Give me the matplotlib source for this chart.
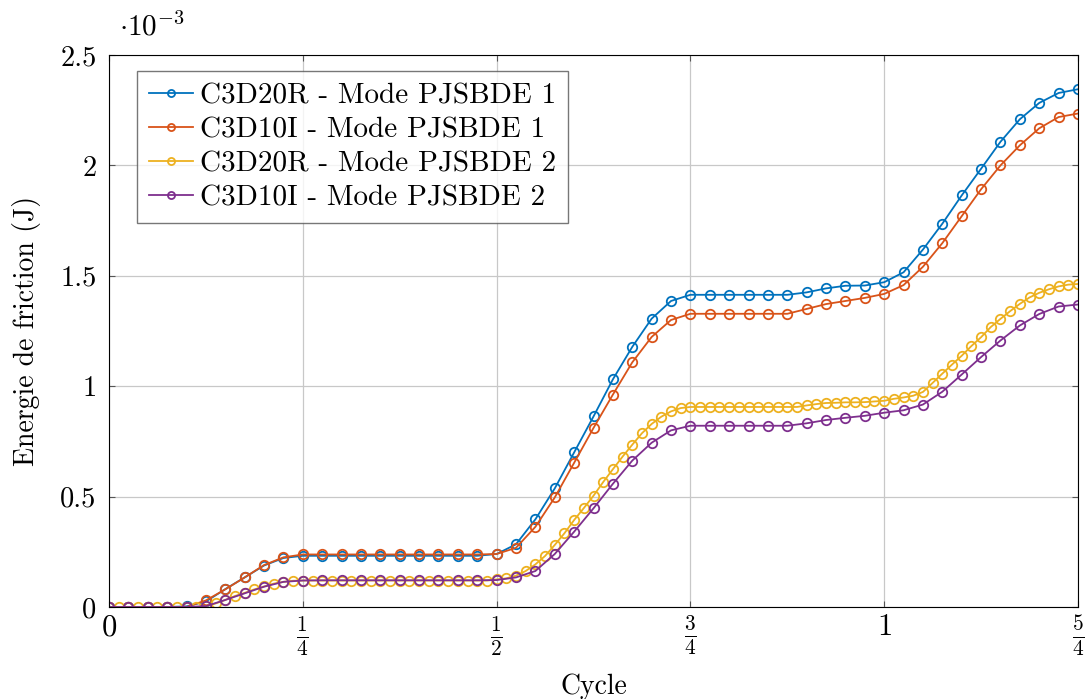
import numpy as np
import matplotlib
matplotlib.use("Agg")
import matplotlib.pyplot as plt

plt.rcParams['font.family'] = 'serif'
plt.rcParams['font.serif'] = ['cmr10']
plt.rcParams['mathtext.fontset'] = 'cm'
plt.rcParams['axes.unicode_minus'] = False

# energie de friction, unites de 1e-3 J
c3d20r_m1 = [0, 0, 0, 0, 0.003, 0.025, 0.081, 0.134, 0.188, 0.222,
             0.232, 0.232, 0.232, 0.232, 0.232, 0.232, 0.232, 0.232, 0.232, 0.232,
             0.240, 0.284, 0.397, 0.537, 0.700, 0.863, 1.031, 1.178, 1.306, 1.386,
             1.414, 1.414, 1.414, 1.414, 1.414, 1.414, 1.425, 1.443, 1.455, 1.456,
             1.471, 1.516, 1.619, 1.736, 1.864, 1.985, 2.107, 2.209, 2.283, 2.328,
             2.345]
c3d10i_m1 = [0, 0, 0, 0, 0, 0.030, 0.080, 0.134, 0.190, 0.225,
             0.238, 0.238, 0.238, 0.238, 0.238, 0.238, 0.238, 0.238, 0.238, 0.238,
             0.240, 0.268, 0.363, 0.496, 0.653, 0.811, 0.962, 1.108, 1.223, 1.300,
             1.328, 1.328, 1.328, 1.328, 1.328, 1.328, 1.350, 1.372, 1.386, 1.400,
             1.418, 1.458, 1.541, 1.648, 1.770, 1.892, 2.000, 2.091, 2.168, 2.219,
             2.235]
c3d20r_m2 = [0, 0, 0, 0, 0, 0, 0, 0, 0, 0,
             0.004, 0.016, 0.032, 0.050, 0.064, 0.080, 0.093, 0.106, 0.114, 0.119,
             0.120, 0.120, 0.120, 0.120, 0.120, 0.120, 0.120, 0.120, 0.120, 0.120,
             0.120, 0.120, 0.120, 0.120, 0.120, 0.120, 0.120, 0.120, 0.120, 0.120,
             0.125, 0.130, 0.142, 0.163, 0.193, 0.231, 0.281, 0.334, 0.394, 0.448,
             0.504, 0.566, 0.624, 0.681, 0.735, 0.787, 0.829, 0.862, 0.886, 0.901,
             0.906, 0.906, 0.906, 0.906, 0.906, 0.906, 0.906, 0.906, 0.906, 0.906,
             0.906, 0.906, 0.913, 0.919, 0.924, 0.925, 0.927, 0.927, 0.928, 0.931,
             0.934, 0.943, 0.949, 0.957, 0.974, 1.015, 1.057, 1.098, 1.138, 1.182,
             1.222, 1.268, 1.305, 1.340, 1.373, 1.402, 1.423, 1.439, 1.452, 1.460,
             1.463]
c3d10i_m2 = [0, 0, 0, 0, 0, 0.004, 0.032, 0.062, 0.092, 0.114,
             0.120, 0.121, 0.121, 0.121, 0.121, 0.121, 0.121, 0.121, 0.121, 0.121,
             0.122, 0.134, 0.163, 0.240, 0.341, 0.447, 0.558, 0.663, 0.744, 0.800,
             0.821, 0.821, 0.821, 0.821, 0.821, 0.821, 0.832, 0.847, 0.857, 0.866,
             0.880, 0.891, 0.917, 0.975, 1.053, 1.132, 1.207, 1.275, 1.327, 1.361,
             1.370]

labels = ['C3D20R - Mode PJSBDE 1', 'C3D10I - Mode PJSBDE 1',
          'C3D20R - Mode PJSBDE 2', 'C3D10I - Mode PJSBDE 2']
colors = ['#0072BD', '#D95319', '#EDB120', '#7E2F8E']

x_coarse = np.linspace(0, 1.25, len(c3d20r_m1))
x_fine = np.linspace(0, 1.25, len(c3d20r_m2))

fig = plt.figure(figsize=(10.87, 6.99), dpi=100)
ax = fig.add_axes([0.1003, 0.1316, 0.8914, 0.7897])

series = [(x_coarse, c3d20r_m1), (x_coarse, c3d10i_m1),
          (x_fine, c3d20r_m2), (x_coarse, c3d10i_m2)]
for (xs, ys), lab, c in zip(series, labels, colors):
    ax.plot(xs, np.array(ys) * 1e-3, '-o', color=c, label=lab, lw=1.3,
            ms=6.8, mfc='none', mew=1.3)

ax.set_xlim(0, 1.25)
ax.set_ylim(0, 2.5e-3)
ax.set_xticks([0, 0.25, 0.5, 0.75, 1, 1.25])
ax.set_xticklabels(['$0$', r'$\frac{1}{4}$', r'$\frac{1}{2}$', r'$\frac{3}{4}$',
                    '$1$', r'$\frac{5}{4}$'], fontsize=22)
ax.set_yticks(np.array([0, 0.5, 1, 1.5, 2, 2.5]) * 1e-3)
ax.set_yticklabels(['0', '0.5', '1', '1.5', '2', '2.5'], fontsize=20.5)
ax.tick_params(direction='in', top=True, right=True, length=4, width=0.8,
               color='#555555')
ax.tick_params(axis='y', pad=9)
ax.tick_params(axis='x', pad=5)
ax.grid(True, color='#c8c8c8', lw=0.9)
ax.set_axisbelow(True)
ax.text(0.01, 1.024, r'$\cdot 10^{-3}$', transform=ax.transAxes, fontsize=21,
        va='bottom', ha='left')

ax.set_xlabel('Cycle', fontsize=20, labelpad=10)
ax.set_ylabel('Energie de friction (J)', fontsize=20, labelpad=14)

leg = ax.legend(loc='upper left', bbox_to_anchor=(0.029, 0.971), fontsize=21,
                frameon=True, fancybox=False, edgecolor='#555555',
                handlelength=1.5, handletextpad=0.25, borderpad=0.4,
                labelspacing=0.26, markerscale=0.75, borderaxespad=0)
leg.get_frame().set_linewidth(1.0)

fig.savefig('out.png', dpi=100)
